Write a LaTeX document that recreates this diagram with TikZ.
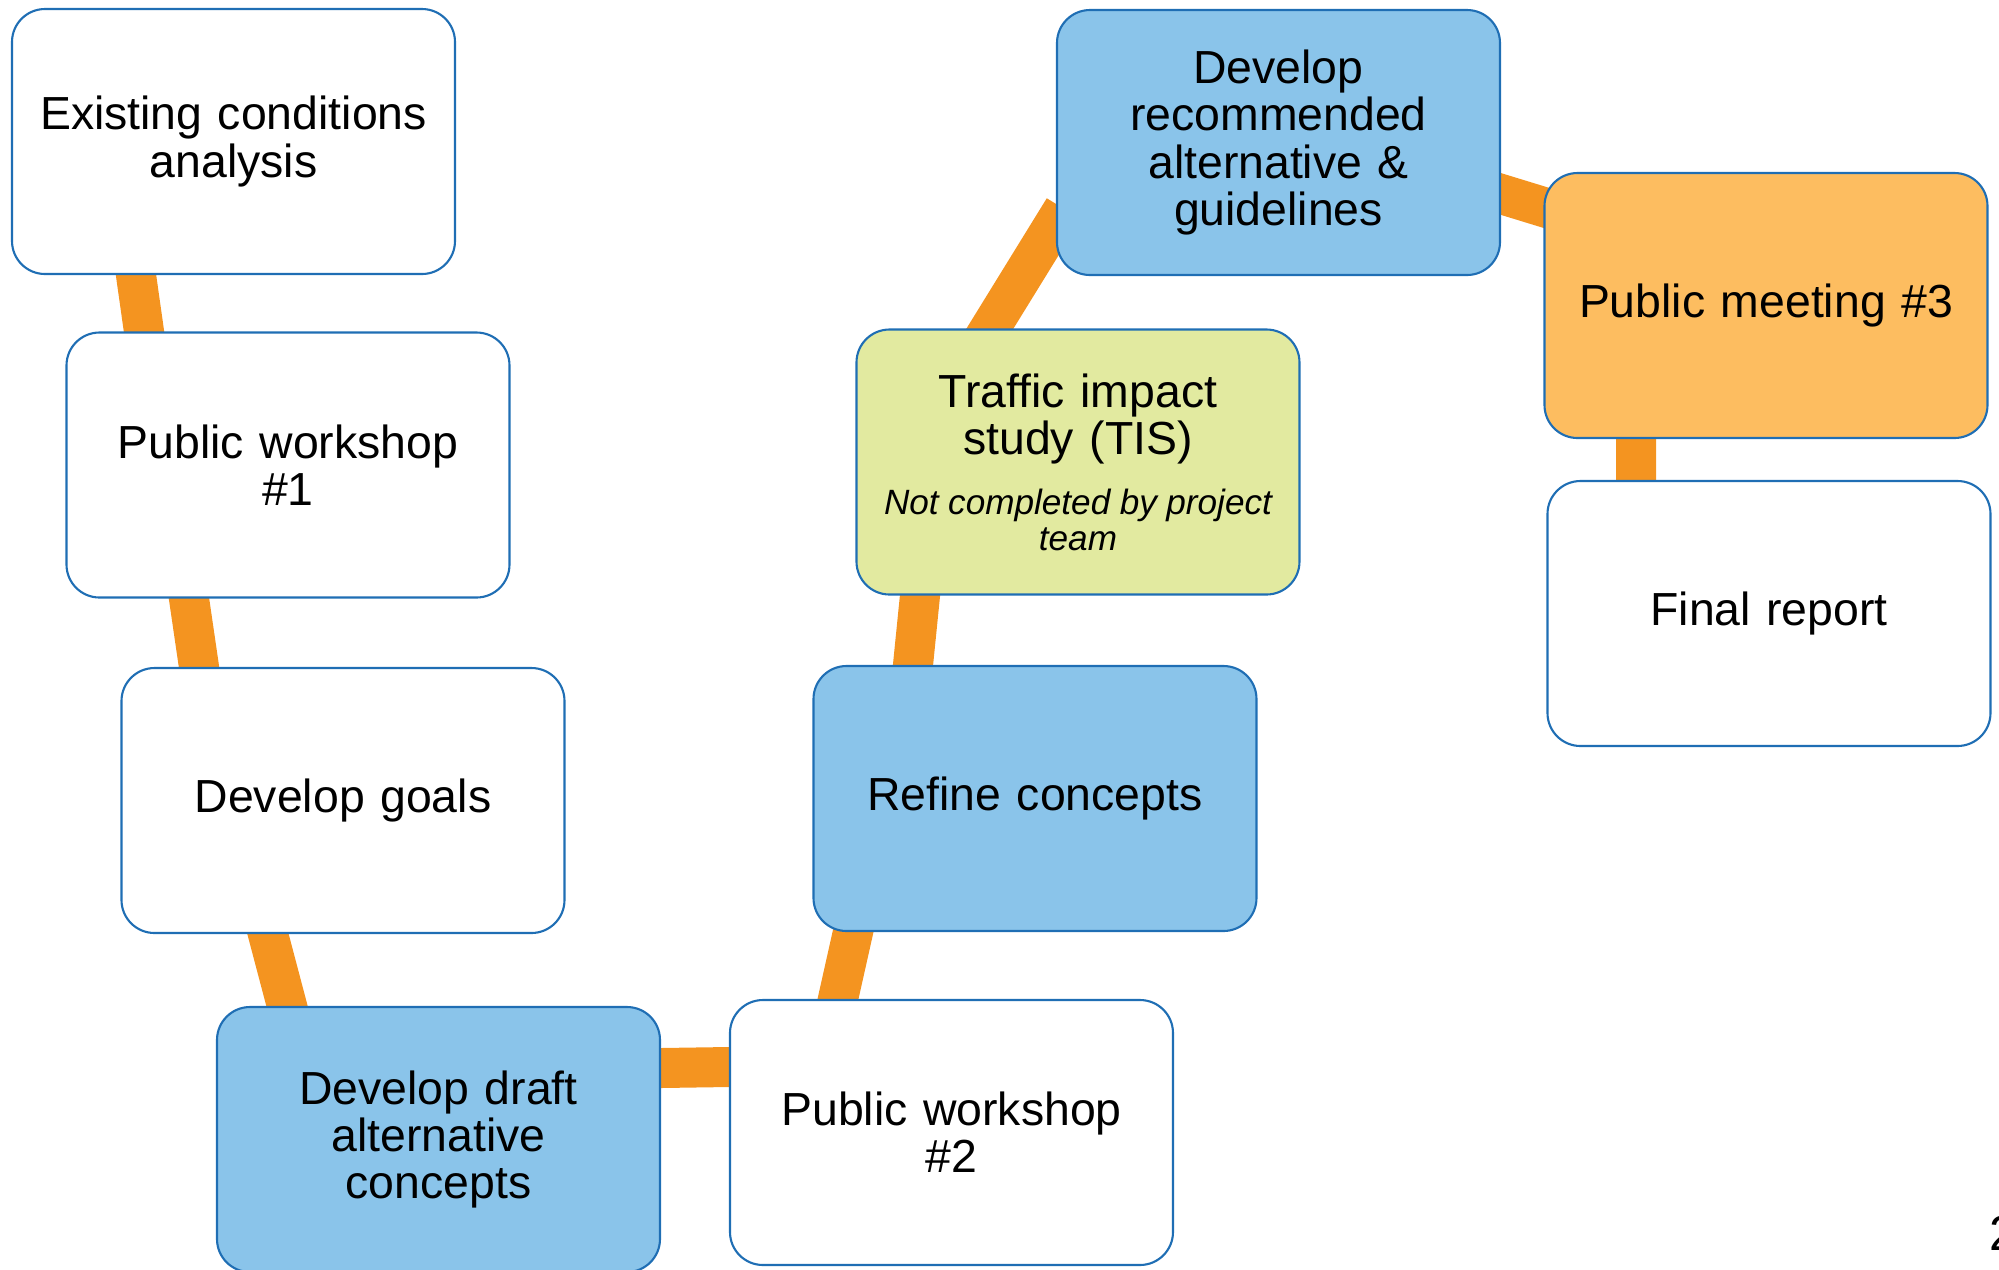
\documentclass[tikz,border=0pt]{standalone}
\usepackage{fontspec}
\setmainfont{Liberation Sans}
\usetikzlibrary{calc,backgrounds}
\definecolor{edgeblue}{HTML}{1F6EB4}
\definecolor{fillblue}{HTML}{8AC4EA}
\definecolor{filltis}{HTML}{E2EAA0}
\definecolor{fillorange}{HTML}{FDBD60}
\definecolor{linkorange}{HTML}{F49420}
\begin{document}
\begin{tikzpicture}[
  stepbox/.style={draw=edgeblue, line width=0.6pt, rounded corners=0.33cm,
    minimum width=4.43cm, minimum height=2.65cm, inner sep=0pt,
    text width=4.2cm, align=center, fill=white,
    font=\fontsize{13.2}{13.4}\selectfont},
  bluebox/.style={stepbox, fill=fillblue},
  tisbox/.style={stepbox, fill=filltis},
  orangebox/.style={stepbox, fill=fillorange},
  link/.style={draw=linkorange, line width=0.4cm,
    shorten <=-0.15cm, shorten >=-0.15cm}
]
\useasboundingbox (0,0) rectangle (19.99,-12.69);

\node[stepbox]   (b1)  at (2.335,-1.415)  {Existing conditions\\analysis};
\node[stepbox]   (b2)  at (2.88,-4.65)    {Public workshop\\\#1};
\node[stepbox]   (b3)  at (3.43,-8.005)   {Develop goals};
\node[bluebox]   (b4)  at (4.385,-11.395) {Develop draft\\alternative\\concepts};
\node[stepbox]   (b5)  at (9.515,-11.325) {Public workshop\\\#2};
\node[bluebox]   (b6)  at (10.35,-7.985)  {Refine concepts};
\node[tisbox]    (b7)  at (10.78,-4.62)   {Traffic impact\\study (TIS)\par\vspace{6.9pt}%
  {\fontsize{10}{10.2}\selectfont\itshape\spaceskip=0.27em\relax
   \mbox{Not\hspace{0.27em}completed\hspace{0.27em}by\hspace{0.27em}project}\\\mbox{team}\par}};
\node[bluebox]   (b8)  at (12.785,-1.425) {Develop\\recommended\\alternative \&\\guidelines};
\node[orangebox] (b9)  at (17.66,-3.055)  {Public meeting \#3};
\node[stepbox]   (b10) at (17.69,-6.135)  {Final report};

\node[anchor=base west, inner sep=0pt, font=\fontsize{14}{14}\selectfont] (pnum) at (19.885,-12.50) {2};

\begin{scope}[on background layer]
  \draw[link] ($(b1.south)+(-0.975,0)$) -- ($(b2.north)+(-1.44,0)$);
  \draw[link] ($(b2.south)+(-0.99,0)$)  -- ($(b3.north)+(-1.44,0)$);
  \draw[link] ($(b3.south)+(-0.75,0)$)  -- ($(b4.north)+(-1.515,0)$);
  \draw[link] ($(b4.east)+(0,0.715)$)   -- ($(b5.west)+(0,0.655)$);
  \draw[link] ($(b5.north)+(-1.135,0)$) -- ($(b6.south)+(-1.82,0)$);
  \draw[link] ($(b6.north)+(-1.22,0)$)  -- ($(b7.south)+(-1.58,0)$);
  \draw[link] ($(b7.north)+(-0.88,0)$)  -- ($(b8.west)+(0,-0.79)$);
  \draw[link] ($(b8.east)+(0,-0.515)$)  -- ($(b9.west)+(0,0.985)$);
  \draw[link] ($(b9.south)+(-1.30,0)$)  -- ($(b10.north)+(-1.33,0)$);
\end{scope}
\end{tikzpicture}
\end{document}
